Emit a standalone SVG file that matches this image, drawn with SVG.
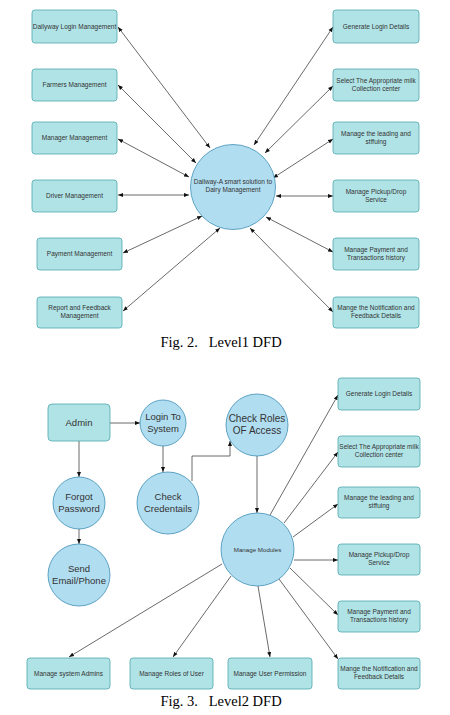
<svg xmlns="http://www.w3.org/2000/svg" width="450" height="715" viewBox="0 0 450 715">
<style>
.box{fill:#b0e3e6;stroke:#4fa8ad;stroke-width:0.8}
.proc{fill:#b1ddf0;stroke:#3f8fb5;stroke-width:0.8}
.t{font-family:"Liberation Sans",Arial,sans-serif;font-size:6.5px;fill:#333;text-anchor:middle}
.tb{font-family:"Liberation Sans",Arial,sans-serif;font-size:9.5px;fill:#333;text-anchor:middle}
.cap{font-family:"Liberation Serif","Times New Roman",serif;font-size:14.5px;fill:#000;text-anchor:middle;white-space:pre}
.c{stroke:#444;stroke-width:0.8;fill:none}
.bi{marker-start:url(#ah);marker-end:url(#ah)}
.one{marker-end:url(#ah)}
</style>
<defs>
<marker id="ah" viewBox="0 0 10 10" refX="10" refY="5" markerWidth="5" markerHeight="5" markerUnits="userSpaceOnUse" orient="auto-start-reverse">
<path d="M0,1 L10,5 L0,9 Z" fill="#111"/>
</marker>
</defs>
<rect width="450" height="715" fill="#fff"/>

<g id="connectors">
<line class="c bi" x1="118" y1="27" x2="210" y2="148"/>
<line class="c bi" x1="118" y1="85" x2="196" y2="163"/>
<line class="c bi" x1="118" y1="139" x2="189" y2="177"/>
<line class="c bi" x1="118" y1="195" x2="189" y2="195"/>
<line class="c bi" x1="123" y1="253" x2="202" y2="216"/>
<line class="c bi" x1="123" y1="311" x2="220" y2="228"/>
<line class="c bi" x1="333" y1="27" x2="254" y2="145"/>
<line class="c bi" x1="333" y1="86" x2="265" y2="153"/>
<line class="c bi" x1="333" y1="139" x2="273" y2="178"/>
<line class="c bi" x1="333" y1="196" x2="276" y2="196"/>
<line class="c bi" x1="333" y1="252" x2="266" y2="217"/>
<line class="c bi" x1="333" y1="312" x2="250" y2="228"/>

<line class="c one" x1="110" y1="423" x2="140" y2="423"/>
<line class="c one" x1="79" y1="441" x2="79" y2="477"/>
<line class="c one" x1="79" y1="529" x2="79" y2="544"/>
<line class="c one" x1="163" y1="446" x2="163" y2="472"/>
<polyline class="c one" points="192,481 192,456 230,456 230,441"/>
<line class="c one" x1="257" y1="456" x2="257" y2="513"/>
<line class="c one" x1="270" y1="515" x2="338" y2="395"/>
<line class="c one" x1="284" y1="523" x2="338" y2="452"/>
<line class="c one" x1="293" y1="537" x2="338" y2="504"/>
<line class="c one" x1="294" y1="560" x2="338" y2="560"/>
<line class="c one" x1="290" y1="568" x2="338" y2="615"/>
<line class="c one" x1="279" y1="579" x2="338" y2="659"/>
<line class="c one" x1="258" y1="586" x2="270" y2="657"/>
<line class="c one" x1="231" y1="576" x2="173" y2="657"/>
<line class="c one" x1="222" y1="564" x2="69" y2="657"/>
</g>

<!-- Level 1 -->
<g id="l1-login"><rect class="box" x="32" y="10" width="85" height="33" rx="3"/><text class="t" x="74.5" y="29">Dailyway Login Management</text></g>
<g id="l1-farmers"><rect class="box" x="32" y="69" width="85" height="32" rx="3"/><text class="t" x="74.5" y="87">Farmers Management</text></g>
<g id="l1-manager"><rect class="box" x="32" y="122" width="85" height="32" rx="3"/><text class="t" x="74.5" y="140">Manager Management</text></g>
<g id="l1-driver"><rect class="box" x="32" y="180" width="85" height="32" rx="3"/><text class="t" x="74.5" y="198">Driver Management</text></g>
<g id="l1-payment"><rect class="box" x="37" y="238" width="85" height="32" rx="3"/><text class="t" x="79.5" y="256">Payment Management</text></g>
<g id="l1-report"><rect class="box" x="37" y="297" width="85" height="31" rx="3"/><text class="t" x="79.5" y="310">Report and Feedback</text><text class="t" x="79.5" y="318">Management</text></g>

<g id="l1-generate"><rect class="box" x="333" y="10" width="86" height="33" rx="3"/><text class="t" x="376" y="29">Generate Login Details</text></g>
<g id="l1-select"><rect class="box" x="333" y="69" width="86" height="32" rx="3"/><text class="t" x="376" y="83">Select The Appropriate milk</text><text class="t" x="376" y="91">Collection center</text></g>
<g id="l1-leading"><rect class="box" x="333" y="122" width="86" height="32" rx="3"/><text class="t" x="376" y="136">Manage the leading and</text><text class="t" x="376" y="144">stffuing</text></g>
<g id="l1-pickup"><rect class="box" x="333" y="180" width="86" height="32" rx="3"/><text class="t" x="376" y="194">Manage Pickup/Drop</text><text class="t" x="376" y="202">Service</text></g>
<g id="l1-paymenth"><rect class="box" x="333" y="238" width="86" height="32" rx="3"/><text class="t" x="376" y="252">Manage Payment and</text><text class="t" x="376" y="260">Transactions history</text></g>
<g id="l1-notif"><rect class="box" x="333" y="297" width="86" height="31" rx="3"/><text class="t" x="376" y="310">Mange the Notification and</text><text class="t" x="376" y="318">Feedback Details</text></g>

<g id="l1-center"><circle class="proc" cx="233" cy="187" r="42.5"/><text class="t" x="233" y="184">Dailway-A smart solution to</text><text class="t" x="233" y="192">Dairy Management</text></g>

<text class="cap" x="221" y="347">Fig. 2.   Level1 DFD</text>

<!-- Level 2 -->
<g id="l2-admin"><rect class="box" x="48" y="404" width="62" height="37" rx="4"/><text class="tb" x="79" y="426">Admin</text></g>
<g id="l2-login"><circle class="proc" cx="163" cy="423" r="23"/><text class="tb" x="163" y="420">Login To</text><text class="tb" x="163" y="432">System</text></g>
<g id="l2-check"><circle class="proc" cx="168" cy="503" r="31"/><text class="tb" x="168" y="500">Check</text><text class="tb" x="168" y="512">Credentails</text></g>
<g id="l2-forgot"><circle class="proc" cx="79" cy="503" r="26"/><text class="tb" x="79" y="500">Forgot</text><text class="tb" x="79" y="512">Password</text></g>
<g id="l2-send"><circle class="proc" cx="79" cy="575" r="31"/><text class="tb" x="79" y="572">Send</text><text class="tb" x="79" y="584">Email/Phone</text></g>
<g id="l2-roles"><circle class="proc" cx="257" cy="425" r="31"/><text class="tb" x="257" y="422" style="font-size:10px">Check Roles</text><text class="tb" x="257" y="434" style="font-size:10px">OF Access</text></g>
<g id="l2-modules"><circle class="proc" cx="257.5" cy="549.5" r="36.5"/><text class="t" x="257.5" y="552" style="font-size:6.2px">Manage Modules</text></g>

<g id="l2-generate"><rect class="box" x="338" y="378" width="82" height="32" rx="3"/><text class="t" x="379" y="396">Generate Login Details</text></g>
<g id="l2-select"><rect class="box" x="338" y="436" width="82" height="31" rx="3"/><text class="t" x="379" y="449">Select The Appropriate milk</text><text class="t" x="379" y="457">Collection center</text></g>
<g id="l2-leading"><rect class="box" x="338" y="487" width="82" height="31" rx="3"/><text class="t" x="379" y="500">Manage the leading and</text><text class="t" x="379" y="508">stffuing</text></g>
<g id="l2-pickup"><rect class="box" x="338" y="544" width="82" height="31" rx="3"/><text class="t" x="379" y="557">Manage Pickup/Drop</text><text class="t" x="379" y="565">Service</text></g>
<g id="l2-paymenth"><rect class="box" x="338" y="601" width="82" height="31" rx="3"/><text class="t" x="379" y="614">Manage Payment and</text><text class="t" x="379" y="622">Transactions history</text></g>
<g id="l2-notif"><rect class="box" x="338" y="658" width="82" height="31" rx="3"/><text class="t" x="379" y="671">Mange the Notification and</text><text class="t" x="379" y="679">Feedback Details</text></g>

<g id="l2-sysadmins"><rect class="box" x="27" y="658" width="83" height="31" rx="3"/><text class="t" x="68.5" y="675.5">Manage system Admins</text></g>
<g id="l2-rolesuser"><rect class="box" x="130" y="658" width="83" height="31" rx="3"/><text class="t" x="171.5" y="675.5">Manage Roles of User</text></g>
<g id="l2-perm"><rect class="box" x="228" y="658" width="84" height="31" rx="3"/><text class="t" x="270" y="675.5">Manage User Permission</text></g>

<text class="cap" x="221" y="706">Fig. 3.   Level2 DFD</text>
</svg>
